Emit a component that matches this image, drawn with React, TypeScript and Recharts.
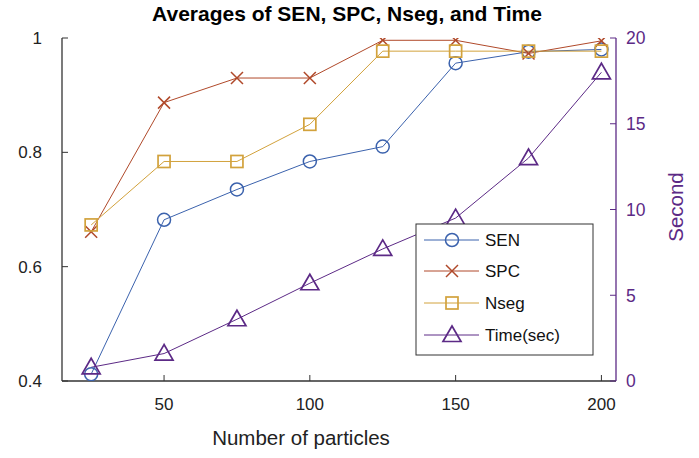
import React from "react";
import { LineChart, Line, XAxis, YAxis } from "recharts";

const particles = [25, 50, 75, 100, 125, 150, 175, 200];
const senValues = [0.412, 0.682, 0.735, 0.784, 0.81, 0.956, 0.976, 0.98];
const spcValues = [0.661, 0.887, 0.93, 0.93, 0.996, 0.996, 0.973, 0.995];
const nsegValues = [0.673, 0.784, 0.784, 0.849, 0.977, 0.977, 0.977, 0.977];
const timeValues = [0.8, 1.6, 3.6, 5.7, 7.7, 9.5, 13.0, 18.0];

const xTicks = [50, 100, 150, 200];
const leftTicks = [0.4, 0.6, 0.8, 1];
const rightTicks = [0, 5, 10, 15, 20];

const C_SEN = "#3b62ad";
const C_SPC = "#b0492a";
const C_NSEG = "#d2a23c";
const C_TIME = "#5c2a86";
const FONT = "'Liberation Sans', Arial, sans-serif";

const data = particles.map((n, i) => ({
  n,
  sen: senValues[i],
  spc: spcValues[i],
  nseg: nsegValues[i],
  time: timeValues[i],
}));

type MarkerKind = "circle" | "x" | "square" | "triangle";

function Marker({ kind, cx, cy, color }: { kind: MarkerKind; cx: number; cy: number; color: string }) {
  if (cx == null || cy == null || isNaN(cx) || isNaN(cy)) return null;
  if (kind === "circle") {
    return <circle cx={cx} cy={cy} r={6.5} fill="none" stroke={color} strokeWidth={1.5} />;
  }
  if (kind === "x") {
    const s = 6;
    return (
      <g stroke={color} strokeWidth={1.5}>
        <line x1={cx - s} y1={cy - s} x2={cx + s} y2={cy + s} />
        <line x1={cx - s} y1={cy + s} x2={cx + s} y2={cy - s} />
      </g>
    );
  }
  if (kind === "square") {
    return <rect x={cx - 6} y={cy - 6} width={12} height={12} fill="none" stroke={color} strokeWidth={1.7} />;
  }
  return (
    <polygon
      points={`${cx},${cy - 9} ${cx - 9},${cy + 6.5} ${cx + 9},${cy + 6.5}`}
      fill="none"
      stroke={color}
      strokeWidth={1.7}
    />
  );
}

const makeDot = (kind: MarkerKind, color: string) => (props: any) => (
  <Marker key={`${kind}-${props.index}`} kind={kind} cx={props.cx} cy={props.cy} color={color} />
);

const LeftTick = (props: any) => {
  const { x, y, payload } = props;
  return (
    <g>
      <line x1={x} y1={y} x2={x + 6} y2={y} stroke="#333" strokeWidth={1} />
      <text x={x - 20} y={y} dy="0.36em" textAnchor="end" fontFamily={FONT} fontSize={17} fill="#222">
        {payload.value}
      </text>
    </g>
  );
};

const RightTick = (props: any) => {
  const { x, y, payload } = props;
  return (
    <g>
      <line x1={x - 6} y1={y} x2={x} y2={y} stroke={C_TIME} strokeWidth={1} />
      <text x={x + 10} y={y} dy="0.36em" textAnchor="start" fontFamily={FONT} fontSize={17.5} fill={C_TIME}>
        {payload.value}
      </text>
    </g>
  );
};

const BottomTick = (props: any) => {
  const { x, y, payload } = props;
  return (
    <g>
      <line x1={x} y1={y - 6} x2={x} y2={y} stroke="#333" strokeWidth={1} />
      <text x={x} y={y + 29} textAnchor="middle" fontFamily={FONT} fontSize={17} fill="#222">
        {payload.value}
      </text>
    </g>
  );
};

const TopTick = (props: any) => {
  const { x, y } = props;
  return <line x1={x} y1={y} x2={x} y2={y + 6} stroke="#333" strokeWidth={1} />;
};

const legendItems: { name: string; kind: MarkerKind; color: string }[] = [
  { name: "SEN", kind: "circle", color: C_SEN },
  { name: "SPC", kind: "x", color: C_SPC },
  { name: "Nseg", kind: "square", color: C_NSEG },
  { name: "Time(sec)", kind: "triangle", color: C_TIME },
];
const legendRows = [240, 271, 303, 335];

export default function App() {
  return (
    <div style={{ position: "absolute", left: 0, top: 0, width: 699, height: 458, background: "#fff" }}>
      <LineChart width={699} height={458} data={data} margin={{ top: 38, right: 0, bottom: 0, left: 0 }}>
        <XAxis
          dataKey="n"
          type="number"
          domain={[15, 205]}
          ticks={xTicks}
          height={77}
          tickSize={0}
          tickMargin={0}
          tick={<BottomTick />}
          axisLine={{ stroke: "#333", strokeWidth: 1.3 }}
          allowDataOverflow
        />
        <XAxis
          xAxisId="top"
          orientation="top"
          dataKey="n"
          type="number"
          domain={[15, 205]}
          ticks={xTicks}
          height={0}
          tickSize={0}
          tickMargin={0}
          tick={<TopTick />}
          axisLine={{ stroke: "#111", strokeWidth: 1.3 }}
          allowDataOverflow
        />
        <YAxis
          yAxisId="left"
          type="number"
          domain={[0.4, 1]}
          ticks={leftTicks}
          width={62}
          tickSize={0}
          tickMargin={0}
          tick={<LeftTick />}
          axisLine={{ stroke: "#333", strokeWidth: 1.3 }}
          allowDataOverflow
        />
        <YAxis
          yAxisId="right"
          orientation="right"
          type="number"
          domain={[0, 20]}
          ticks={rightTicks}
          width={83}
          tickSize={0}
          tickMargin={0}
          tick={<RightTick />}
          axisLine={{ stroke: C_TIME, strokeWidth: 1.3 }}
          allowDataOverflow
        />
        <Line yAxisId="left" dataKey="sen" stroke={C_SEN} strokeWidth={1} dot={makeDot("circle", C_SEN)} isAnimationActive={false} />
        <Line yAxisId="left" dataKey="spc" stroke={C_SPC} strokeWidth={1} dot={makeDot("x", C_SPC)} isAnimationActive={false} />
        <Line yAxisId="left" dataKey="nseg" stroke={C_NSEG} strokeWidth={1} dot={makeDot("square", C_NSEG)} isAnimationActive={false} />
        <Line yAxisId="right" dataKey="time" stroke={C_TIME} strokeWidth={1} dot={makeDot("triangle", C_TIME)} isAnimationActive={false} />
      </LineChart>
      <svg width={699} height={458} style={{ position: "absolute", left: 0, top: 0, pointerEvents: "none" }}>
        <text x={347} y={21} textAnchor="middle" fontFamily={FONT} fontWeight="bold" fontSize={21} fill="#000">
          Averages of SEN, SPC, Nseg, and Time
        </text>
        <text x={301} y={445} textAnchor="middle" fontFamily={FONT} fontSize={20.5} fill="#222">
          Number of particles
        </text>
        <text
          x={683}
          y={207}
          textAnchor="middle"
          transform="rotate(-90 683 207)"
          fontFamily={FONT}
          fontSize={20.5}
          fill={C_TIME}
        >
          Second
        </text>
        <rect x={416} y={224} width={177} height={131} fill="#fff" stroke="#333" strokeWidth={1} />
        {legendItems.map((it, i) => (
          <g key={it.name}>
            <line x1={424} y1={legendRows[i]} x2={479} y2={legendRows[i]} stroke={it.color} strokeWidth={1} />
            <Marker kind={it.kind} cx={452} cy={legendRows[i]} color={it.color} />
            <text x={485} y={legendRows[i]} dy="0.36em" fontFamily={FONT} fontSize={17} fill="#111">
              {it.name}
            </text>
          </g>
        ))}
      </svg>
    </div>
  );
}
